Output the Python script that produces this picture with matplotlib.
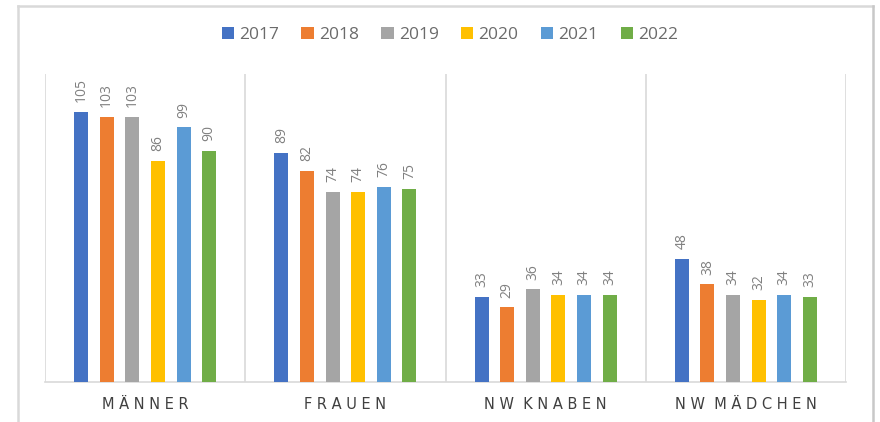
import matplotlib
matplotlib.use("Agg")
import matplotlib.pyplot as plt
from matplotlib.lines import Line2D
import numpy as np

categories = ["M Ä N N E R", "F R A U E N", "N W  K N A B E N", "N W  M Ä D C H E N"]
years = ["2017", "2018", "2019", "2020", "2021", "2022"]
values = {
    "2017": [105, 89, 33, 48],
    "2018": [103, 82, 29, 38],
    "2019": [103, 74, 36, 34],
    "2020": [86, 74, 34, 32],
    "2021": [99, 76, 34, 34],
    "2022": [90, 75, 34, 33],
}
colors = ["#4472C4", "#ED7D31", "#A5A5A5", "#FFC000", "#5B9BD5", "#70AD47"]

plt.rcParams['font.family'] = ['Open Sans', 'DejaVu Sans']

fig = plt.figure(figsize=(8.8, 4.22), dpi=100)
ax = fig.add_axes([45/880, 1-382/422, (846-45)/880, (382-73.5)/422])

# outer frame
frame_col = "#d9d9d9"
fig.add_artist(Line2D([18/880, 18/880], [0, 1-6/422], transform=fig.transFigure, color=frame_col, lw=1.8))
fig.add_artist(Line2D([18/880, 873/880], [1-6/422, 1-6/422], transform=fig.transFigure, color=frame_col, lw=1.8))
fig.add_artist(Line2D([873/880, 873/880], [0, 1-6/422], transform=fig.transFigure, color="#c8c8c8", lw=1.8))

x = np.arange(len(categories))
step = 0.128
width = 0.07
for i, (yr, col) in enumerate(zip(years, colors)):
    bars = ax.bar(x + (i - 2.5) * step, values[yr], width, color=col, label=yr, zorder=3)
    ax.bar_label(bars, rotation=90, padding=7, color="#808080", fontsize=10)

ax.set_xlim(-0.5, 3.5)
ax.set_ylim(0, 120)
ax.set_xticks(x)
ax.set_xticklabels(categories, fontsize=10.5, color="#404040",
                   family=['DejaVu Sans'])
ax.set_xticks(np.arange(-0.5, 4.0, 1.0), minor=True)
ax.grid(True, which="minor", axis="x", color="#d9d9d9", lw=1.2)
ax.tick_params(axis="x", which="both", length=0, pad=11)
ax.set_yticks([])
for s in ["top", "left", "right"]:
    ax.spines[s].set_visible(False)
ax.spines["bottom"].set_color("#d9d9d9")
ax.spines["bottom"].set_linewidth(1.2)

ax.legend(loc="center", bbox_to_anchor=(450/880, 1-35/422), bbox_transform=fig.transFigure,
          ncol=6, frameon=False, fontsize=12.5, handlelength=0.7, handleheight=0.7,
          handletextpad=0.3, columnspacing=1.3, labelcolor="#6b6b6b")

fig.savefig("out.png", dpi=100)
